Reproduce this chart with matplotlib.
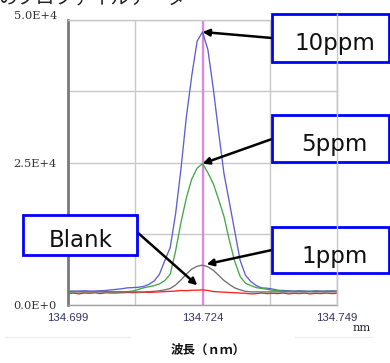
import numpy as np
import matplotlib
matplotlib.use("Agg")
import matplotlib.pyplot as plt
from matplotlib.patches import Rectangle
from matplotlib.lines import Line2D
from matplotlib.transforms import ScaledTranslation

# ---------------- data ----------------
wl_start = 134.699
wl_step = 0.001
n_pts = 51
wavelength = np.round(wl_start + wl_step * np.arange(n_pts), 4)

ppm10 = [2450, 2450, 2450, 2500, 2450, 2450, 2500, 2550, 2650, 2750,
         2850, 3000, 3050, 3100, 3250, 3600, 4200, 5400, 7800, 10100,
         16000, 23900, 33000, 40200, 46300, 47900, 44800, 38000, 30300, 23000,
         18000, 12900, 7800, 5200, 4100, 3400, 3000, 2950, 2800, 2600,
         2550, 2500, 2450, 2500, 2450, 2400, 2500, 2450, 2450, 2500, 2450]
ppm5 = [2350, 2350, 2350, 2350, 2350, 2350, 2350, 2350, 2350, 2350,
        2350, 2350, 2450, 2700, 3000, 3200, 3400, 3700, 4300, 5400,
        9500, 14500, 18800, 22100, 24000, 24800, 23200, 21300, 18500, 15500,
        11300, 7600, 5000, 3800, 3400, 3050, 2900, 2750, 2600, 2500,
        2400, 2400, 2400, 2400, 2400, 2400, 2400, 2400, 2400, 2400, 2400]
ppm1 = [2300, 2300, 2300, 2300, 2300, 2300, 2300, 2300, 2300, 2300,
        2300, 2300, 2300, 2300, 2300, 2350, 2400, 2500, 2650, 2900,
        3500, 4400, 5400, 6300, 6800, 7000, 6700, 6100, 5200, 4300,
        3600, 3000, 2650, 2400, 2300, 2300, 2300, 2300, 2300, 2300,
        2300, 2300, 2300, 2300, 2300, 2300, 2300, 2300, 2300, 2300, 2300]
blank = [2000, 2100, 1950, 2100, 2050, 2150, 2000, 2150, 2100, 2100,
         2150, 2200, 2150, 2200, 2250, 2200, 2250, 2300, 2350, 2400,
         2450, 2550, 2500, 2600, 2600, 2650, 2550, 2350, 2300, 2250,
         2200, 2150, 2100, 2050, 1950, 2000, 2100, 2000, 2050, 2000,
         2100, 1950, 2050, 2000, 2100, 1950, 2050, 2000, 2100, 2000, 2050]

series_names = ["10ppm", "5ppm", "1ppm", "Blank"]
series_values = [ppm10, ppm5, ppm1, blank]
series_colors = ["#5e5ed2", "#45a845", "#707070", "#ff2020"]

x_ticks = [134.699, 134.724, 134.749]
x_ticklabels = ["134.699", "134.724", "134.749"]
y_ticks = [0, 25000, 50000]
y_ticklabels = ["0.0E+0", "2.5E+4", "5.0E+4"]
peak_wl = 134.724

# ---------------- figure ----------------
W, H = 390, 363
fig = plt.figure(figsize=(W / 100, H / 100), dpi=100)
fig.patch.set_facecolor("white")

def fx(x):
    return x / W

def fy(y):
    return 1 - y / H

ax = fig.add_axes([fx(68), fy(305), fx(337) - fx(68), fy(20) - fy(305)])
ax.set_xlim(x_ticks[0], x_ticks[-1])
ax.set_ylim(0, 50000)

# grid
ax.set_xticks(x_ticks)
ax.set_xticks([134.7115, 134.7365], minor=True)
ax.set_yticks(y_ticks)
ax.set_yticks([12500, 37500], minor=True)
ax.grid(True, which="both", color="#c8c8c8", lw=1.0)
ax.set_axisbelow(True)
ax.tick_params(which="both", length=0)

ax.set_xticklabels(x_ticklabels, fontsize=8.2, color="#333366",
                   family="Liberation Sans")
ax.set_yticklabels(y_ticklabels, fontsize=8.2, color="#333333",
                   family="DejaVu Serif")
ax.tick_params(axis="x", pad=6)
ax.tick_params(axis="y", pad=8)
# shift top y label upward slightly as in the reference
yl = ax.get_yticklabels()
yl[-1].set_transform(yl[-1].get_transform()
                     + ScaledTranslation(0, 5 / 100, fig.dpi_scale_trans))

for s in ["top", "right"]:
    ax.spines[s].set_color("#c8c8c8")
    ax.spines[s].set_linewidth(1.0)
ax.spines["bottom"].set_color("#a0a0a0")
ax.spines["bottom"].set_linewidth(1.0)
ax.spines["left"].set_color("#7a7a7a")
ax.spines["left"].set_linewidth(2.0)

ax.axvline(peak_wl, color="#dd88dd", lw=1.6, zorder=1.5)

# curves: draw blank first, then others
order = [3, 0, 1, 2]
for i in order:
    ax.plot(wavelength, series_values[i], color=series_colors[i], lw=0.95,
            zorder=2 + (i if i != 3 else -0.5))

# ---------------- annotation boxes ----------------
boxes = {
    "10ppm": (272, 14, 389, 62, 335, 50),
    "5ppm": (272, 115, 389, 162, 334, 151),
    "1ppm": (272, 227, 389, 273, 335, 263),
    "Blank": (23, 215, 137, 255, 81, 247),
}
for name, (x0, y0, x1, y1, tx, ty) in boxes.items():
    r = Rectangle((fx(x0), fy(y1)), fx(x1) - fx(x0), fy(y0) - fy(y1),
                  transform=fig.transFigure, facecolor="white",
                  edgecolor="#0000ff", lw=2.0, zorder=3)
    fig.add_artist(r)
    fig.text(fx(tx), fy(ty), name, ha="center", va="baseline",
             fontsize=16.5, color="#111111", family="DejaVu Sans", zorder=6)

# right frame line visible through the boxes
fig.add_artist(Line2D([fx(337), fx(337)], [fy(14), fy(305)],
                      transform=fig.transFigure, color="#c8c8c8",
                      lw=1.0, zorder=4))

# arrows from boxes to peaks
arrow_starts = {"10ppm": (272, 38), "5ppm": (272, 139),
                "1ppm": (272, 250), "Blank": (137, 232)}
arrow_shrink = {"10ppm": 0, "5ppm": 0, "1ppm": 3, "Blank": 5}
for i, name in enumerate(series_names):
    vals = np.array(series_values[i])
    k = int(np.argmax(vals))
    sx, sy = arrow_starts[name]
    ax.annotate("", xy=(wavelength[k], vals[k]), xycoords="data",
                xytext=(fx(sx), fy(sy)), textcoords="figure fraction",
                arrowprops=dict(arrowstyle="-|>", color="black", lw=1.8,
                                mutation_scale=10, shrinkA=0,
                                shrinkB=arrow_shrink[name]),
                zorder=7, annotation_clip=False)

# axis unit and label
fig.text(fx(362), fy(328), "nm", ha="center", va="center", fontsize=8.2,
         family="DejaVu Serif", color="#222222")
fig.text(fx(208), fy(350), "波長（ｎｍ）", ha="center", va="center",
         fontsize=9, fontweight="bold",
         family=["Noto Sans CJK JP", "DejaVu Sans"], color="#111111")

# faint decorative separators
for (a, b) in [(5, 130), (295, 372)]:
    fig.add_artist(Line2D([fx(a), fx(b)], [fy(337), fy(337)],
                          transform=fig.transFigure, color="#eeeeee", lw=1.0))

# caption cut off at the very top, as in the reference
fig.text(fx(-2), fy(5), "のプロファイルデータ", ha="left", va="baseline",
         fontsize=13.5, family=["Noto Sans CJK JP", "DejaVu Sans"],
         color="#222222")

fig.savefig("out.png", dpi=100)
